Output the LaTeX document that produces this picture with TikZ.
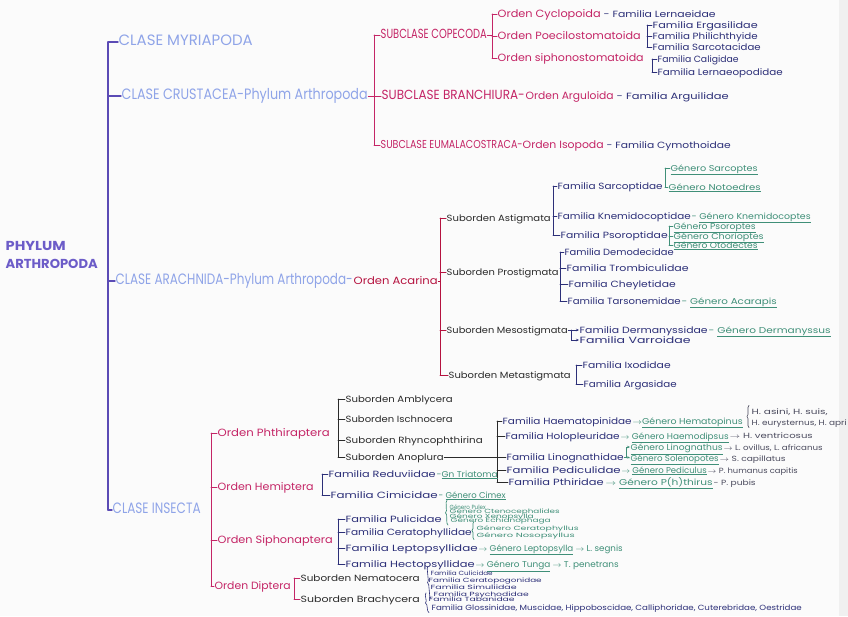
\documentclass[tikz,border=0pt]{standalone}
\usepackage{fontspec}
\setmainfont{Poppins}
\usepackage{graphicx}
\usetikzlibrary{decorations.pathreplacing,arrows.meta}
\definecolor{phyc}{HTML}{5B4BB5}
\definecolor{phyt}{HTML}{6C5CC8}
\definecolor{clsc}{HTML}{8FA4E8}
\definecolor{magc}{HTML}{C42566}
\definecolor{redc}{HTML}{B5123F}
\definecolor{famc}{HTML}{2C2F78}
\definecolor{genc}{HTML}{3F8F78}
\definecolor{spcol}{HTML}{4B4B5E}
\definecolor{blk}{HTML}{2A2A2A}
\newcommand\myvf{1}
\newcommand\TN[6]{\node[tx,#4] (#1) at (#2,#3) {\resizebox{#5pt}{\myvf\height}{#6}};}
\tikzset{
  tx/.style={anchor=west, inner sep=0.5pt, text height=1.45ex, text depth=0.35ex},
  phy/.style={font=\fontsize{13}{15}\selectfont\bfseries, text=phyt},
  cls/.style={font=\fontsize{12.5}{14}\selectfont\def\myvf{1.2}, text=clsc},
  sub/.style={font=\fontsize{11}{13}\selectfont\def\myvf{1.2}, text=magc},
  ord/.style={font=\fontsize{10.5}{12}\selectfont, text=magc},
  redt/.style={font=\fontsize{10.5}{12}\selectfont, text=redc},
  fam/.style={font=\fontsize{9}{10}\selectfont, text=famc},
  sfam/.style={font=\fontsize{7.5}{8}\selectfont, text=famc},
  sbo/.style={font=\fontsize{9}{10}\selectfont, text=blk},
  gen/.style={font=\fontsize{8.5}{9}\selectfont, text=genc},
  tgen/.style={font=\fontsize{6}{7}\selectfont, text=genc},
  spt/.style={font=\fontsize{7.5}{8}\selectfont, text=spcol},
  tny/.style={font=\fontsize{6}{7}\selectfont, text=famc},
  phyl/.style={draw=phyc, line width=1.4pt},
  magl/.style={draw=magc, line width=1pt},
  redl/.style={draw=redc, line width=1pt},
  navl/.style={draw=famc, line width=0.8pt},
  grnl/.style={draw=genc, line width=0.7pt},
  blkl/.style={draw=blk, line width=0.9pt},
  brc/.style={decorate, decoration={brace, amplitude=2pt}},
  arr/.style={-{Stealth[length=3pt,width=2.5pt]}},
}
\begin{document}
\begin{tikzpicture}[x=1pt,y=-1pt,line cap=round]
\fill[white!97!gray] (0,0) rectangle (848,616);
\fill[white!88!gray] (839,0) rectangle (848,616);
\useasboundingbox (0,0) rectangle (848,616);

% ---------- phylum and classes ----------
\TN{phy1}{5}{247}{phy}{60}{PHYLUM}
\TN{phy2}{5}{265}{phy}{92}{ARTHROPODA}
\TN{myr}{118}{42}{cls}{134}{CLASE MYRIAPODA}
\TN{cru}{121}{96}{cls}{246}{CLASE CRUSTACEA-Phylum Arthropoda}
\TN{ara}{115}{281}{cls}{237}{CLASE ARACHNIDA-Phylum Arthropoda-}
\TN{aca}{353}{281}{redt}{84}{Orden Acarina}
\TN{ins}{112}{510}{cls}{88}{CLASE INSECTA}
\coordinate (s0) at (108,0);
\draw[phyl] (s0|-myr.west) -- (s0|-ins.west);
\foreach \n in {myr,cru,ara,ins} \draw[phyl] (s0|-\n.west) -- (\n.west);

% ---------- Crustacea ----------
\TN{cop}{380}{35}{sub}{106}{SUBCLASE COPECODA}
\TN{bra}{381}{96}{sub}{143}{SUBCLASE BRANCHIURA-}
\TN{arg1}{525}{96}{ord}{88}{Orden Arguloida}
\TN{arg2}{616}{96}{fam}{112}{- Familia Arguilidae}
\TN{eum}{380}{145}{sub,font=\fontsize{10}{12}\selectfont\def\myvf{1.15}}{142}{SUBCLASE EUMALACOSTRACA-}
\TN{iso1}{522}{145}{ord}{81}{Orden Isopoda}
\TN{iso2}{606}{145}{fam}{124}{- Familia Cymothoidae}
\coordinate (s1) at (374,0);
\draw[magl] (s1|-cop.west) -- (s1|-eum.west);
\foreach \n in {cop,bra,eum} \draw[magl] (s1|-\n.west) -- (\n.west);
\draw[magl] (cru.east) -- (s1|-cru.east);

% Copepoda
\TN{cyc}{497}{14}{ord}{103}{Orden Cyclopoida}
\TN{cyc2}{603}{14}{fam}{112}{- Familia Lernaeidae}
\TN{poe}{497}{36}{ord}{143}{Orden Poecilostomatoida}
\TN{sip}{497}{58}{ord}{146}{Orden siphonostomatoida}
\coordinate (s2) at (492,0);
\draw[magl] (s2|-cyc.west) -- (s2|-sip.west);
\foreach \n in {cyc,poe,sip} \draw[magl] (s2|-\n.west) -- (\n.west);
\draw[magl] (cop.east) -- (s2|-cop.east);
\TN{erg}{652}{25}{fam}{105}{Familia Ergasilidae}
\TN{phi}{652}{36}{fam}{105}{Familia Philichthyide}
\TN{sca}{652}{47}{fam}{108}{Familia Sarcotacidae}
\coordinate (s3) at (647,0);
\draw[navl] (s3|-erg.west) -- (s3|-sca.west);
\foreach \n in {erg,phi,sca} \draw[navl] (s3|-\n.west) -- (\n.west);
\TN{cal}{657}{59}{fam}{81}{Familia Caligidae}
\TN{lrn}{657}{72}{fam}{125}{Familia Lernaeopodidae}
\coordinate (s4) at (652,0);
\draw[navl] (s4|-cal.west) -- (s4|-lrn.west);
\foreach \n in {cal,lrn} \draw[navl] (s4|-\n.west) -- (\n.west);

% ---------- Arachnida / Acarina ----------
\TN{ast}{446}{218}{sbo}{104}{Suborden Astigmata}
\TN{pro}{446}{272}{sbo}{112}{Suborden Prostigmata}
\TN{mes}{446}{330}{sbo}{121}{Suborden Mesostigmata}
\TN{met}{448}{375}{sbo}{122}{Suborden Metastigmata}
\coordinate (s5) at (440,0);
\draw[redl] (s5|-ast.west) -- (s5|-met.west);
\foreach \n in {ast,pro,mes,met} \draw[redl] (s5|-\n.west) -- (\n.west);
\draw[redl] (aca.east) -- (s5|-aca.east);

% Astigmata
\TN{sarc}{557}{186}{fam}{105}{Familia Sarcoptidae}
\TN{kne}{557}{216}{fam}{133}{Familia Knemidocoptidae}
\TN{kneg}{691}{216}{gen}{119}{- \underline{Género Knemidocoptes}}
\TN{pso}{560}{235}{fam}{107}{Familia Psoroptidae}
\coordinate (s6) at (553,0);
\draw[navl] (s6|-sarc.west) -- (s6|-pso.west);
\foreach \n in {sarc,kne,pso} \draw[navl] (s6|-\n.west) -- (\n.west);
\TN{gsar}{670}{168}{gen}{87}{\underline{Género Sarcoptes}}
\TN{gnot}{668}{187}{gen}{92}{\underline{Género Notoedres}}
\coordinate (s7) at (665,0);
\draw[grnl] (s7|-gsar.west) -- (s7|-gnot.west);
\foreach \n in {gsar,gnot} \draw[grnl] (s7|-\n.west) -- (\n.west);
\TN{gpso}{673}{226}{gen}{82}{\underline{Género Psoroptes}}
\TN{gcho}{673}{236}{gen}{90}{\underline{Género Chorioptes}}
\TN{goto}{673}{245}{gen}{84}{\underline{Género Otodectes}}
\coordinate (s8) at (669,0);
\draw[grnl] (s8|-gpso.west) -- (s8|-goto.west);
\foreach \n in {gpso,gcho,goto} \draw[grnl] (s8|-\n.west) -- (\n.west);

% Prostigmata
\TN{dem}{564}{252}{fam}{109}{Familia Demodecidae}
\TN{tro}{566}{268}{fam}{122}{Familia Trombiculidae}
\TN{che}{568}{284}{fam}{107}{Familia Cheyletidae}
\TN{tar}{567}{301}{fam}{113}{Familia Tarsonemidae}
\TN{targ}{681}{301}{gen}{95}{- \underline{Género Acarapis}}
\coordinate (s9) at (560,0);
\draw[navl] (s9|-dem.west) -- (s9|-tar.west);
\foreach \n in {dem,tro,che,tar} \draw[navl] (s9|-\n.west) -- (\n.west);

% Mesostigmata
\TN{der}{579}{330}{fam}{128}{Familia Dermanyssidae}
\TN{derg}{708}{330}{gen}{122}{- \underline{Género Dermanyssus}}
\TN{var}{579}{340}{fam}{111}{Familia Varroidae}
\draw[navl,arr] (mes.east) -- (der.west);
\coordinate (mk) at ([xshift=3pt]mes.east);
\draw[navl,arr] (mk) |- (var.west);

% Metastigmata
\TN{ixo}{582}{365}{fam}{88}{Familia Ixodidae}
\TN{ags}{583}{384}{fam}{93}{Familia Argasidae}
\coordinate (s10) at (576,0);
\draw[navl] (s10|-ixo.west) -- (s10|-ags.west);
\foreach \n in {ixo,ags} \draw[navl] (s10|-\n.west) -- (\n.west);

% ---------- Insecta ----------
\TN{pht}{217}{433}{ord}{112}{Orden Phthiraptera}
\TN{hem}{217}{487}{ord}{96}{Orden Hemiptera}
\TN{sif}{217}{540}{ord}{115}{Orden Siphonaptera}
\TN{dip}{214}{586}{ord}{76}{Orden Diptera}
\coordinate (s11) at (211,0);
\draw[magl] (s11|-pht.west) -- (s11|-dip.west);
\foreach \n in {pht,hem,sif,dip} \draw[magl] (s11|-\n.west) -- (\n.west);

% Phthiraptera
\TN{amb}{345}{399}{sbo}{107}{Suborden Amblycera}
\TN{isc}{345}{419}{sbo}{107}{Suborden Ischnocera}
\TN{rhy}{345}{440}{sbo}{137}{Suborden Rhyncophthirina}
\TN{ano}{345}{457}{sbo}{98}{Suborden Anoplura}
\coordinate (s12) at (338,0);
\draw[blkl] (s12|-amb.west) -- (s12|-ano.west);
\foreach \n in {amb,isc,rhy,ano} \draw[blkl] (s12|-\n.west) -- (\n.west);

% Anoplura
\TN{hae}{502}{421}{fam}{129}{Familia Haematopinidae}
\TN{hol}{505}{436}{fam}{114}{Familia Holopleuridae}
\TN{lin}{506}{457}{fam}{117}{Familia Linognathidae}
\TN{ped}{506}{470}{fam}{114}{Familia Pediculidae}
\TN{pth}{508}{482}{fam}{95}{Familia Pthiridae}
\coordinate (s13) at (497,0);
\draw[blkl] (s13|-hae.west) -- (s13|-pth.west);
\foreach \n in {hae,hol,lin,ped,pth} \draw[blkl] (s13|-\n.west) -- (\n.west);
\draw[blkl] (ano.east) -- (s13|-ano.east);

\TN{haeg}{632}{421}{gen}{110}{$\to$\underline{Género Hematopinus}}
\TN{hs1}{751}{411}{spt}{76}{H. asini, H. suis,}
\TN{hs2}{751}{422}{spt}{95}{H. eurysternus, H. apri}
\draw[draw=spcol,line width=0.6pt,brc] ([xshift=-2pt]hs2.south west) -- ([xshift=-2pt]hs1.north west);
\TN{holg}{620}{436}{gen}{108}{$\to$ \underline{Género Haemodipsus}}
\TN{hols}{729}{435}{spt}{83}{$\to$ H. ventricosus}
\TN{ling1}{630}{447}{gen}{92}{\underline{Género Linognathus}}
\TN{lins1}{723}{447}{spt}{99}{$\to$ L. ovillus, L. africanus}
\TN{ling2}{630}{458}{gen}{88}{\underline{Género Solenopotes}}
\TN{lins2}{719}{458}{spt}{66}{$\to$ S. capillatus}
\coordinate (lk) at ([xshift=2pt]lin.east);
\draw[grnl,arr] (lin.east) -- (lk) |- (ling1.west);
\draw[grnl,arr] (lk) -- (ling2.west);
\TN{pedg}{621}{470}{gen}{85}{$\to$ \underline{Género Pediculus}}
\TN{peds}{707}{470}{spt}{90}{$\to$ P. humanus capitis}
\TN{pthg}{605}{482}{gen}{107}{$\to$ \underline{Género P(h)thirus}}
\TN{pths}{713}{482}{spt}{42}{- P. pubis}

% Hemiptera
\TN{redu}{328}{474}{fam}{107}{Familia Reduviidae}
\TN{redg}{436}{474}{gen}{61}{-\underline{Gn Triatoma}}
\TN{cim}{330}{495}{fam}{107}{Familia Cimicidae}
\TN{cimg}{438}{495}{gen}{67}{- \underline{Género Cimex}}
\coordinate (s14) at (322,0);
\draw[navl] (s14|-redu.west) -- (s14|-cim.west);
\foreach \n in {redu,cim} \draw[navl] (s14|-\n.west) -- (\n.west);

% Siphonaptera
\TN{pul}{345}{519}{fam}{96}{Familia Pulicidae}
\TN{cer}{345}{532}{fam}{126}{Familia Ceratophyllidae}
\TN{lep}{345}{548}{fam}{132}{Familia Leptopsyllidae}
\TN{lepg}{478}{548}{gen}{144}{$\to$ \underline{Género Leptopsylla} $\to$ L. segnis}
\TN{hec}{345}{564}{fam}{129}{Familia Hectopsyllidae}
\TN{hecg}{475}{564}{gen}{143}{$\to$ \underline{Género Tunga} $\to$ T. penetrans}
\coordinate (s15) at (338,0);
\draw[navl] (s15|-pul.west) -- (s15|-hec.west);
\foreach \n in {pul,cer,lep,hec} \draw[navl] (s15|-\n.west) -- (\n.west);
\TN{pg1}{449}{506}{tgen}{36}{Género Pulex}
\TN{pg2}{449}{510.5}{tgen}{110}{Género Ctenocephalides}
\TN{pg3}{449}{515}{tgen}{84}{Género Xenopsylla}
\TN{pg4}{450}{519.5}{tgen}{100}{Género Echidnophaga}
\draw[grnl,brc] ([xshift=-2pt]pg4.south west) -- ([xshift=-2pt]pg1.north west);
\TN{cg1}{476}{527}{tgen}{102}{Género Ceratophyllus}
\TN{cg2}{476}{534}{tgen}{98}{Género Nosopsyllus}
\draw[grnl,brc] ([xshift=-2pt]cg2.south west) -- ([xshift=-2pt]cg1.north west);

% Diptera
\TN{nem}{300}{578}{sbo}{119}{Suborden Nematocera}
\TN{brcy}{300}{599}{sbo}{119}{Suborden Brachycera}
\coordinate (s16) at (294,0);
\draw[magl] (s16|-nem.west) -- (s16|-brcy.west);
\foreach \n in {nem,brcy} \draw[magl] (s16|-\n.west) -- (\n.west);
\TN{nf1}{430}{572}{tny}{62}{Familia Culicidae}
\TN{nf2}{428}{579}{tny}{113}{Familia Ceratopogonidae}
\TN{nf3}{430}{586}{tny}{86}{Familia Simuliidae}
\TN{nf4}{433}{593}{tny}{95}{Familia Psychodidae}
\draw[navl,line width=0.6pt,brc] ([xshift=-2pt]nf4.south west) -- ([xshift=-2pt]nf1.north west);
\TN{bf1}{428}{598.5}{tny}{86}{Familia Tabanidae}
\TN{bf2}{431}{607}{sfam}{370}{Familia Glossinidae, Muscidae, Hippoboscidae, Calliphoridae, Cuterebridae, Oestridae}
\draw[navl,line width=0.6pt,brc] ([xshift=-2pt]bf2.south west) -- ([xshift=-2pt]bf1.north west);
\end{tikzpicture}
\end{document}
